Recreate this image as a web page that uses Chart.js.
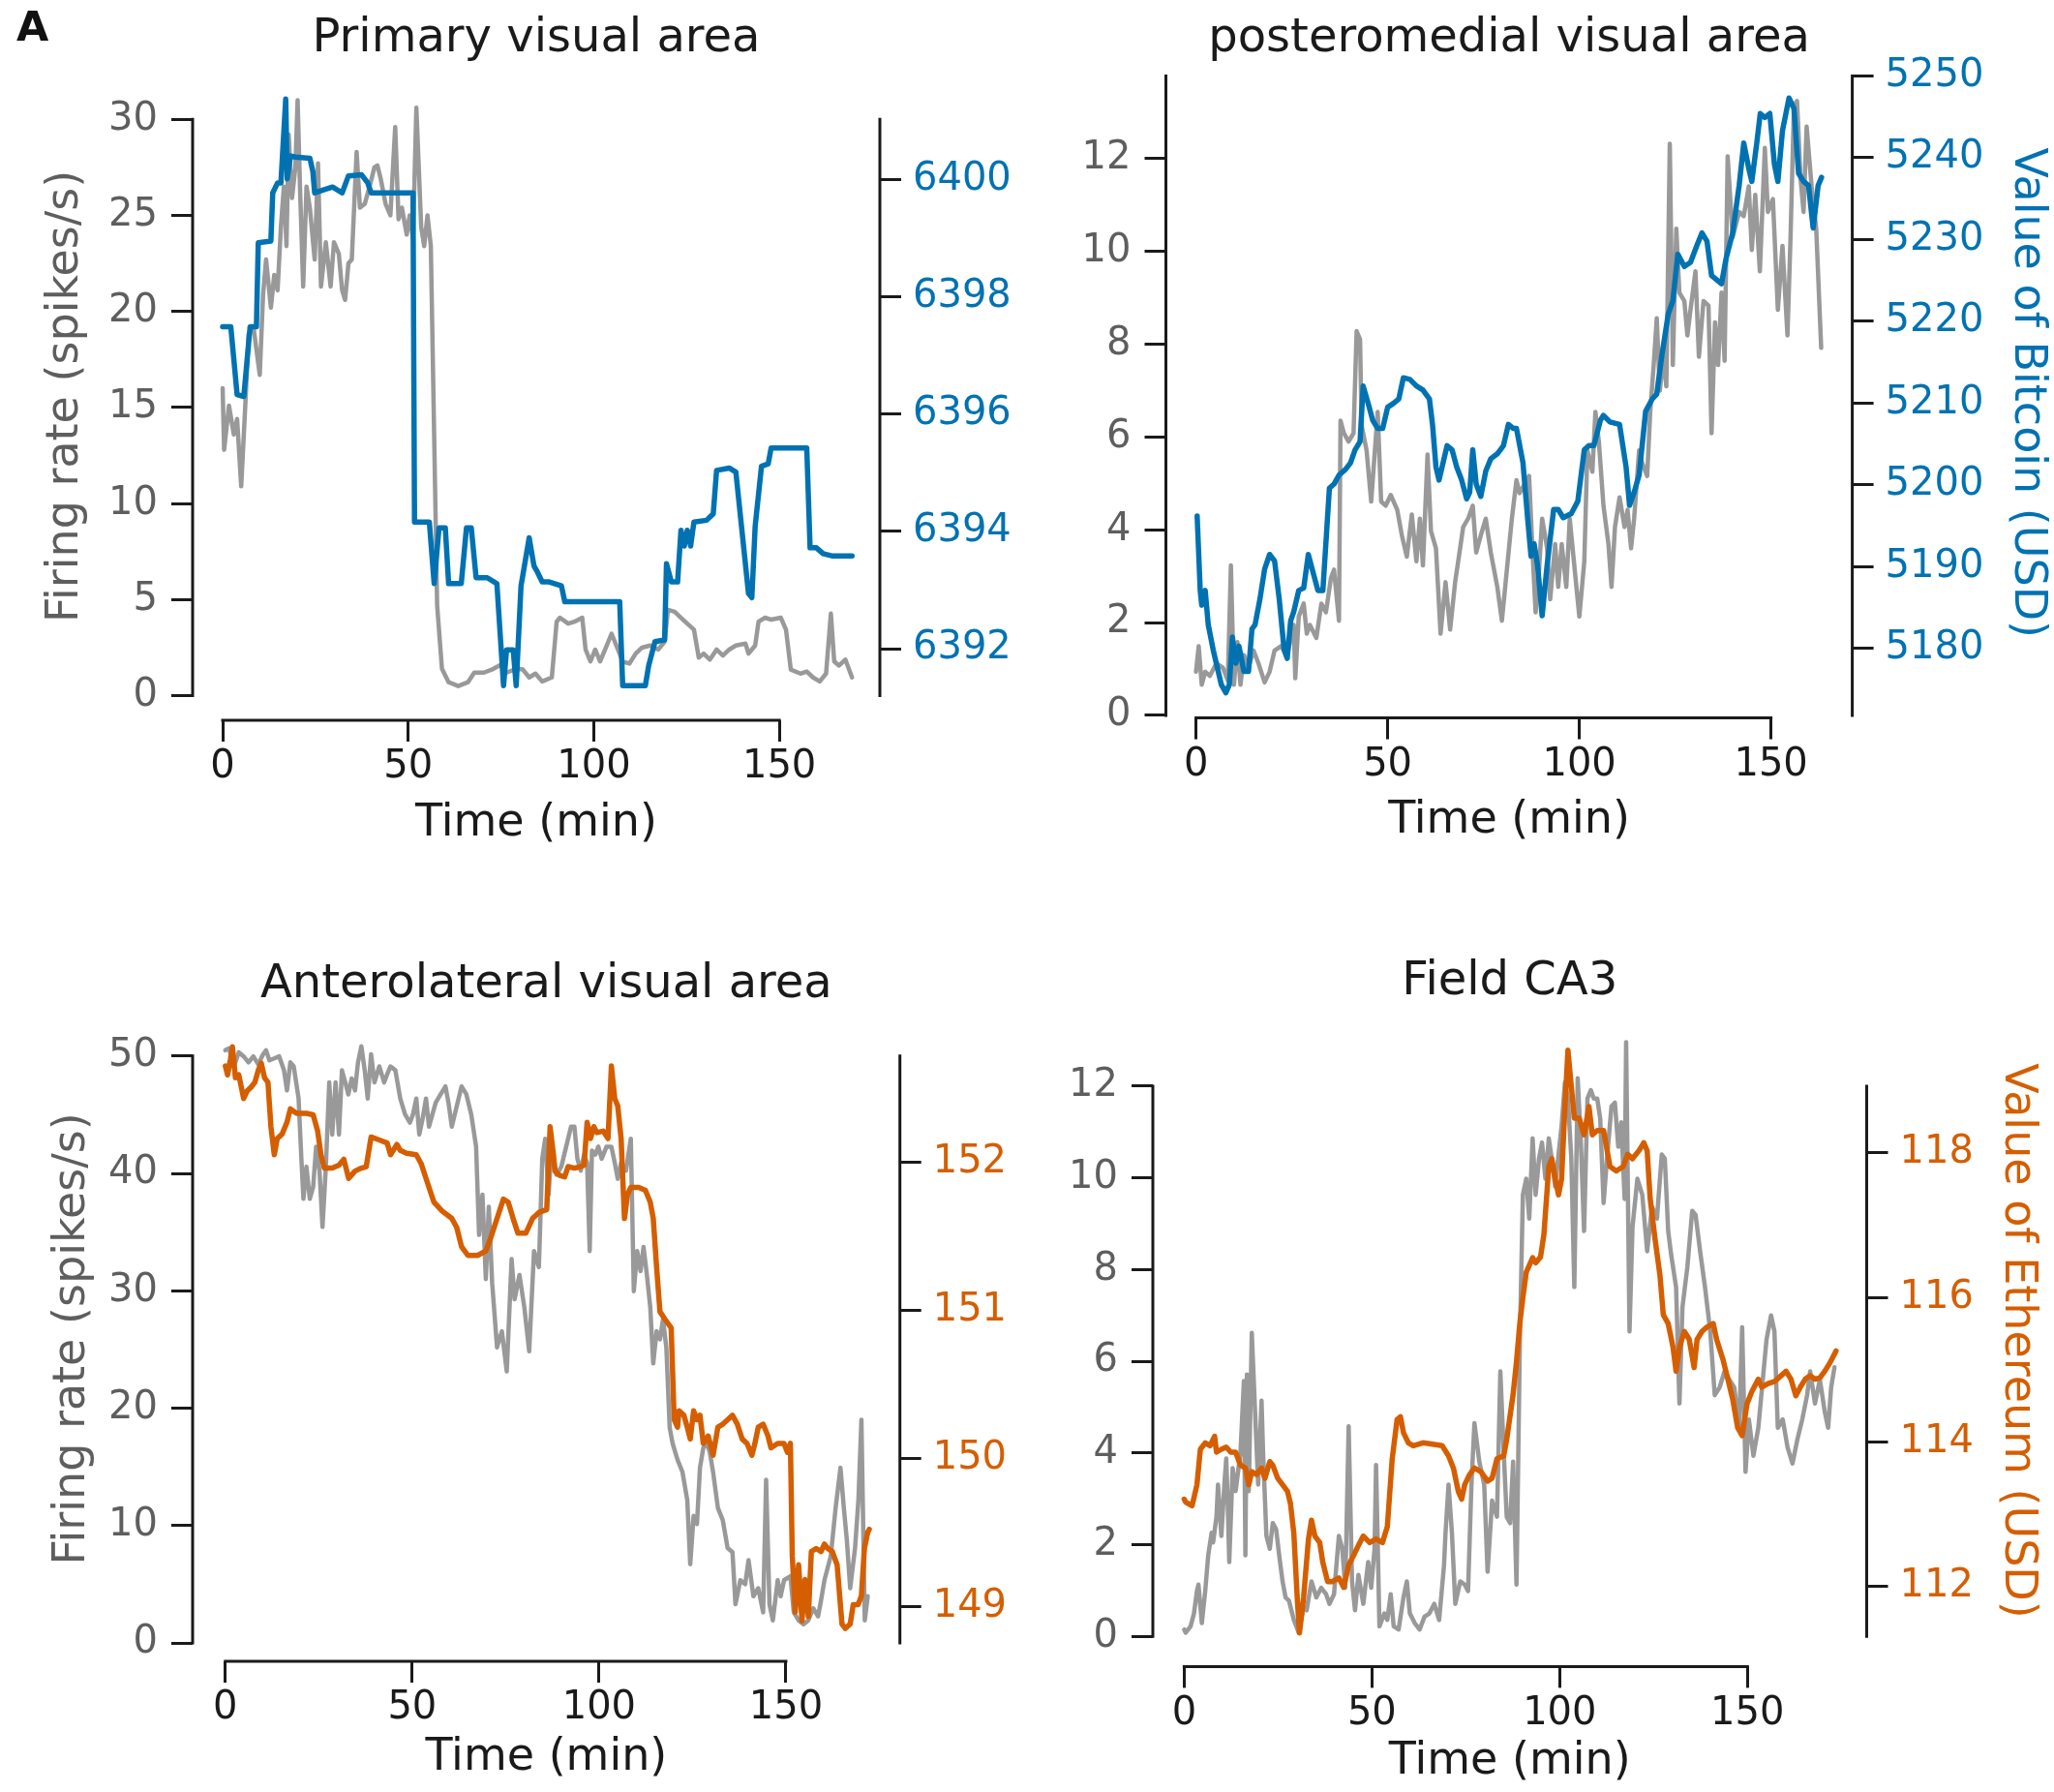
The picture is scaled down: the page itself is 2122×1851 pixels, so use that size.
<!DOCTYPE html>
<html lang="en">
<head>
<meta charset="utf-8">
<title>Firing rate vs. crypto value</title>
<script src="https://cdn.jsdelivr.net/npm/chart.js@4.4.1/dist/chart.umd.min.js"></script>
<style>
  html, body { margin: 0; padding: 0; background: #ffffff; }
  #figure { position: relative; width: 2122px; height: 1851px; overflow: hidden; background: #ffffff; }
  #figure canvas { position: absolute; }
  #panel-letter { position: absolute; z-index: 2; left: 17px; top: 6px; font: bold 43px/43px "DejaVu Sans", sans-serif; color: #111111; }
</style>
</head>
<body>
<div id="figure">
  <div id="panel-letter">A</div>
  <canvas id="primary-chart" width="1061" height="930" style="left:0px;top:0px"></canvas>
  <canvas id="postero-chart" width="1061" height="930" style="left:1061px;top:0px"></canvas>
  <canvas id="antero-chart" width="1061" height="921" style="left:0px;top:930px"></canvas>
  <canvas id="ca3-chart" width="1061" height="921" style="left:1061px;top:930px"></canvas>
</div>
<script>
// ---- values: [time (min), value] ----
const timeTicks = [0, 50, 100, 150];

const primaryRateTicks = [0, 5, 10, 15, 20, 25, 30];
const primaryBtcTicks = [6392, 6394, 6396, 6398, 6400];
const posteroRateTicks = [0, 2, 4, 6, 8, 10, 12];
const posteroBtcTicks = [5180, 5190, 5200, 5210, 5220, 5230, 5240, 5250];
const anteroRateTicks = [0, 10, 20, 30, 40, 50];
const anteroEthTicks = [149, 150, 151, 152];
const ca3RateTicks = [0, 2, 4, 6, 8, 10, 12];
const ca3EthTicks = [112, 114, 116, 118];

const primaryRate = [
  [0,16.0],[0.4,12.8],[1.7,15.1],[3.0,13.6],[3.9,14.4],[5.0,10.9],[6.1,15.1],[7.0,18.8],[8.3,19.2],[10.0,16.7],
  [10.9,20.9],[11.7,22.7],[13.0,20.2],[13.9,21.9],[14.8,21.1],[15.7,24.4],[16.5,26.5],[17.2,23.4],[17.8,29.2],[18.7,25.9],
  [19.6,27.5],[20.2,31.0],[20.9,26.1],[21.7,21.3],[22.6,26.5],[23.5,25.4],[24.8,22.7],[25.7,27.7],[26.5,21.3],[27.8,23.6],
  [29.1,21.3],[30.0,23.6],[31.3,23.0],[32.2,21.1],[33.0,20.6],[33.9,22.5],[34.8,22.7],[36.1,28.3],[37.0,25.4],[38.3,25.6],
  [39.6,26.5],[40.9,27.5],[41.7,27.6],[42.6,26.9],[43.9,25.6],[45.2,25.0],[46.5,29.6],[47.4,24.8],[48.3,25.4],[49.6,24.0],
  [50.4,25.0],[51.3,23.8],[52.2,30.6],[53.5,24.4],[54.3,23.4],[55.2,25.0],[56.1,23.4],[57.8,4.7],[59.1,1.4],[60.9,0.7],
  [63.5,0.5],[66.1,0.7],[67.8,1.2],[70.4,1.2],[73.0,1.4],[74.8,1.6],[76.5,1.2],[79.1,1.4],[80.9,1.36],[82.6,0.95],
  [84.3,1.15],[86.1,0.74],[88.7,0.95],[90.0,3.85],[90.9,4.06],[93.1,3.75],[94.8,3.85],[96.9,4.06],[97.8,2.4],[99.1,1.78],
  [100.4,2.4],[101.7,1.78],[103.5,2.61],[104.8,3.23],[106.1,2.61],[107.8,1.78],[109.6,1.67],[111.3,2.19],[113.0,2.5],[115.2,2.61],
  [117.4,2.4],[119.1,2.81],[120.0,4.47],[121.8,4.37],[123.5,4.06],[125.2,3.75],[127.0,3.44],[128.3,1.98],[129.6,2.19],[131.3,1.88],
  [133.1,2.4],[134.8,2.09],[136.5,2.4],[138.3,2.61],[140.9,2.71],[141.7,2.19],[143.5,2.61],[144.4,3.85],[146.1,4.06],[147.8,3.96],
  [150.4,4.06],[151.8,3.44],[153.1,1.36],[155.7,1.15],[157.4,1.26],[159.1,0.95],[160.9,0.74],[162.6,1.15],[163.9,4.27],[164.8,1.78],
  [166.1,1.57],[167.8,1.88],[169.6,0.95]
];
const primaryBtc = [
  [0,6397.49],[2.2,6397.49],[3.9,6396.33],[5.7,6396.3],[7.4,6397.49],[9.1,6397.49],[9.6,6398.92],[13.0,6398.95],[13.5,6399.77],[14.8,6399.94],
  [15.7,6399.94],[17.0,6401.37],[17.4,6400.01],[18.3,6400.4],[19.6,6400.38],[23.5,6400.36],[24.3,6400.14],[24.8,6399.77],[29.6,6399.87],[32.2,6399.77],
  [33.9,6400.06],[37.4,6400.08],[39.1,6399.94],[40.0,6399.77],[51.3,6399.77],[51.7,6394.16],[55.7,6394.16],[57.0,6393.11],[58.3,6394.06],[60.0,6394.06],
  [60.9,6393.11],[64.3,6393.11],[65.7,6394.06],[67.0,6394.06],[68.3,6393.21],[71.3,6393.21],[73.9,6393.11],[75.7,6391.37],[76.5,6391.98],[78.3,6391.98],
  [79.1,6391.37],[80.4,6393.07],[82.6,6393.89],[83.9,6393.41],[84.8,6393.31],[86.1,6393.14],[87.8,6393.14],[91.3,6393.07],[92.2,6392.8],[107.0,6392.8],
  [107.8,6391.37],[113.9,6391.37],[114.8,6391.71],[116.5,6392.12],[119.1,6392.15],[119.6,6393.45],[120.9,6393.14],[122.6,6393.14],[123.5,6394.02],[124.4,6393.75],
  [125.2,6394.02],[126.1,6393.75],[127.0,6394.16],[130.4,6394.19],[132.2,6394.3],[133.1,6395.04],[136.5,6395.08],[138.3,6395.01],[141.7,6392.94],[142.6,6392.87],
  [143.5,6394.09],[145.2,6395.11],[147.0,6395.15],[147.8,6395.42],[157.4,6395.42],[158.3,6393.72],[160.0,6393.72],[161.8,6393.62],[164.4,6393.58],[169.6,6393.58]
];

const posteroRate = [
  [0,0.94],[0.7,1.49],[1.5,0.66],[2.4,0.94],[3.6,0.85],[5.3,1.12],[7.0,1.03],[8.3,0.75],[9.1,3.23],[9.9,0.66],
  [10.8,1.58],[11.6,0.66],[12.5,1.3],[13.7,1.03],[15.0,1.4],[16.3,1.12],[17.9,0.71],[19.2,0.94],[20.5,1.4],[22.2,1.49],
  [23.8,1.3],[25.5,1.95],[25.9,0.8],[26.8,2.13],[28.1,2.41],[28.9,1.76],[29.7,1.95],[31.4,1.67],[32.7,2.41],[33.9,2.22],
  [35.2,2.96],[36.0,3.14],[37.3,2.04],[37.7,6.35],[38.6,6.08],[39.8,5.9],[41.1,6.08],[41.9,8.28],[42.8,8.1],[43.2,6.26],
  [44.5,5.71],[45.7,4.61],[47.4,6.54],[48.3,4.61],[49.5,4.52],[50.8,4.75],[52.5,4.43],[53.7,3.88],[55.0,3.42],[56.3,4.33],
  [57.5,3.32],[58.4,4.24],[59.2,3.23],[60.4,5.62],[61.3,3.97],[62.6,3.6],[63.8,1.76],[65.1,2.87],[66.3,1.85],[67.6,2.87],
  [68.9,3.6],[69.7,4.06],[71.0,4.24],[72.2,4.52],[73.1,3.51],[74.3,3.88],[75.6,4.24],[76.9,3.51],[78.6,2.77],[79.8,2.04],
  [81.1,3.14],[82.4,4.24],[83.6,5.07],[84.4,4.79],[85.7,4.98],[86.9,5.16],[87.8,3.51],[88.6,2.22],[89.5,3.14],[90.3,4.24],
  [91.6,3.6],[92.4,2.5],[93.7,3.69],[94.5,2.77],[95.4,3.69],[96.6,2.77],[97.5,4.24],[98.8,3.14],[100.0,2.13],[101.3,3.32],
  [102.1,5.71],[103.4,5.25],[104.2,6.54],[105.1,5.9],[106.3,4.52],[107.6,3.69],[108.4,2.77],[109.3,4.06],[110.5,4.7],[111.8,4.06],
  [112.6,4.43],[113.5,3.6],[114.3,4.24],[115.6,5.71],[116.4,5.44],[117.7,5.16],[118.5,6.54],[119.4,7.55],[120.2,8.56],[121.0,7.0],
  [121.9,7.73],[122.7,7.09],[123.6,12.32],[124.4,7.55],[125.3,10.49],[126.1,9.11],[127.4,8.93],[128.2,8.19],[129.0,8.74],[130.3,9.57],
  [131.2,7.73],[132.4,8.93],[133.7,8.83],[134.5,6.08],[135.4,8.47],[136.2,7.55],[137.1,9.11],[137.9,7.64],[138.7,12.05],[140.0,10.3],
  [141.7,10.85],[142.9,10.76],[144.2,11.4],[145.0,10.03],[145.9,11.22],[147.1,9.57],[148.4,12.23],[149.2,10.85],[150.5,11.13],[151.8,8.74],
  [153.0,10.12],[154.3,8.19],[155.1,10.3],[156.0,13.15],[156.8,13.24],[157.7,11.59],[158.5,10.85],[159.3,12.69],[160.6,11.4],[161.8,10.49],
  [163.1,7.92]
];
const posteroBtc = [
  [0.3,5196.2],[1.1,5187.1],[1.5,5185.3],[2.4,5187.1],[3.2,5182.9],[4.5,5179.8],[5.3,5178.2],[6.6,5175.6],[7.8,5174.6],[8.7,5175.6],
  [9.5,5181.4],[10.4,5178.2],[11.2,5180.3],[12.5,5177.2],[13.7,5177.2],[14.6,5182.4],[15.4,5182.9],[16.7,5186.1],[17.9,5189.7],[19.2,5191.5],
  [20.5,5190.7],[21.7,5186.1],[23.0,5179.8],[23.8,5178.8],[24.7,5183.4],[25.5,5184.5],[26.8,5187.1],[28.1,5187.4],[29.3,5191.5],[30.6,5189.2],
  [31.8,5187.1],[33.1,5187.1],[34.8,5199.6],[36.0,5200.1],[37.3,5201.2],[39.0,5201.9],[40.3,5202.7],[41.5,5204.3],[42.8,5205.3],[43.6,5212.1],
  [44.9,5210.0],[46.1,5207.9],[47.4,5206.9],[48.7,5206.9],[50.0,5209.5],[51.6,5210.0],[52.9,5210.5],[54.1,5213.1],[55.8,5212.9],[57.5,5212.1],
  [59.2,5211.6],[60.9,5210.5],[61.7,5207.4],[62.6,5202.2],[63.4,5200.6],[64.2,5202.2],[65.5,5204.8],[66.8,5204.3],[68.0,5202.2],[69.3,5200.6],
  [70.6,5198.3],[71.4,5199.1],[72.2,5204.3],[73.1,5200.1],[74.3,5198.6],[75.6,5201.7],[76.9,5203.2],[78.6,5203.8],[80.2,5204.8],[81.5,5207.4],
  [82.8,5206.9],[83.6,5206.9],[85.3,5202.7],[86.5,5196.0],[87.4,5191.3],[88.2,5192.8],[89.1,5190.2],[90.3,5184.0],[91.6,5190.2],[93.3,5197.0],
  [94.5,5197.0],[95.8,5196.0],[97.9,5196.5],[99.6,5198.0],[101.3,5204.3],[102.5,5204.8],[103.8,5204.8],[105.5,5207.9],[106.3,5208.5],[108.0,5207.7],
  [110.5,5207.4],[112.2,5202.2],[113.1,5197.5],[114.3,5199.1],[115.6,5201.2],[117.3,5209.0],[119.0,5210.5],[120.2,5211.1],[121.5,5215.7],[123.2,5220.9],
  [124.4,5222.5],[125.7,5228.2],[127.4,5226.7],[129.0,5227.2],[130.7,5229.3],[132.0,5230.8],[133.3,5229.8],[134.5,5225.6],[135.8,5225.1],[137.1,5224.6],
  [138.3,5227.7],[140.0,5230.8],[141.7,5236.6],[142.9,5241.8],[144.2,5238.7],[145.0,5237.1],[146.3,5241.8],[147.2,5245.4],[148.4,5244.9],[149.7,5245.4],
  [150.9,5239.2],[151.8,5237.1],[153.0,5243.3],[154.7,5247.3],[156.0,5246.0],[157.2,5238.1],[158.5,5237.1],[159.8,5236.6],[161.0,5231.4],[162.3,5236.6],
  [163.2,5237.6]
];

const anteroRate = [
  [0,50.49],[1.0,50.66],[2.3,49.12],[3.6,50.32],[4.9,49.97],[6.2,49.46],[7.5,49.97],[8.8,49.29],[10.1,50.15],[10.9,50.49],
  [11.8,49.63],[13.1,49.8],[14.4,49.97],[15.7,48.78],[16.5,47.07],[17.4,49.46],[18.3,49.12],[19.6,46.38],[20.4,40.91],[20.9,37.83],
  [21.7,40.57],[22.6,37.83],[23.5,38.86],[24.3,42.28],[25.2,40.23],[26.0,35.44],[26.9,40.57],[27.8,47.75],[28.6,43.31],[29.5,47.75],
  [30.4,43.31],[31.2,48.78],[32.1,47.75],[32.9,46.73],[33.8,48.09],[34.7,47.07],[35.5,49.46],[36.4,50.83],[37.3,48.78],[38.1,46.38],
  [39.0,50.15],[39.9,47.75],[41.2,49.12],[42.5,47.75],[43.3,48.44],[44.2,49.12],[45.5,48.78],[46.8,46.38],[48.1,45.02],[49.4,44.33],
  [50.2,45.02],[51.1,46.38],[51.9,43.31],[52.8,44.68],[53.7,46.38],[54.5,43.99],[55.4,45.02],[56.3,46.04],[57.6,46.73],[58.9,47.41],
  [59.7,46.04],[60.6,43.99],[61.9,45.7],[63.2,47.41],[64.5,46.73],[65.8,45.02],[67.1,42.28],[67.9,34.76],[68.8,38.18],[69.7,31.0],
  [70.5,37.15],[71.4,30.65],[72.7,25.18],[74.0,26.55],[75.3,23.13],[76.6,32.7],[77.4,29.28],[78.7,31.34],[80.0,28.6],[81.3,24.84],
  [82.6,33.39],[83.9,32.02],[84.8,41.25],[85.6,42.96],[86.5,38.18],[87.3,42.28],[88.6,39.89],[89.9,40.57],[91.2,42.28],[92.5,43.99],
  [93.4,43.99],[94.2,41.25],[95.1,40.23],[96.0,41.6],[96.8,40.91],[97.5,33.39],[98.1,41.94],[99.0,41.6],[99.8,42.28],[100.7,41.25],
  [102.0,42.28],[103.3,42.28],[104.2,40.91],[105.0,39.54],[105.9,40.91],[107.2,40.23],[108.5,42.96],[109.3,29.97],[110.2,33.39],[111.1,31.68],
  [111.9,33.73],[112.8,31.34],[113.7,28.6],[114.5,23.81],[115.4,26.55],[116.3,25.86],[117.1,27.57],[118.0,25.18],[118.9,18.34],[119.7,16.97],
  [121.0,15.6],[122.3,14.58],[123.6,12.18],[124.4,6.71],[125.3,10.82],[126.2,10.13],[127.0,14.92],[127.9,16.63],[128.8,16.97],[129.6,16.29],
  [130.5,14.58],[131.8,11.5],[133.1,10.47],[134.4,8.08],[135.7,7.74],[136.5,3.29],[137.8,5.34],[139.1,5.0],[140.0,7.05],[141.3,3.98],
  [142.6,4.66],[143.9,2.61],[144.7,13.89],[145.6,3.29],[146.5,1.92],[147.8,5.34],[148.6,3.98],[149.5,5.34],[151.2,5.69],[152.1,2.61],
  [153.4,1.92],[154.7,1.58],[156.0,1.92],[157.3,2.95],[158.6,2.27],[159.4,3.63],[160.3,5.34],[162.0,7.4],[163.3,11.5],[164.6,14.92],
  [165.5,11.5],[166.3,8.76],[167.2,4.66],[168.5,8.08],[169.4,12.18],[170.2,19.02],[171.1,1.92],[171.9,3.98]
];
const anteroEth = [
  [0,152.65],[0.6,152.59],[1.4,152.7],[1.9,152.78],[2.7,152.57],[3.6,152.59],[4.9,152.43],[5.8,152.48],[7.0,152.51],[7.9,152.54],
  [8.8,152.62],[9.6,152.67],[10.5,152.57],[11.4,152.54],[12.2,152.24],[13.1,152.05],[13.9,152.16],[15.2,152.19],[16.5,152.27],[17.4,152.36],
  [19.1,152.33],[21.7,152.33],[23.5,152.32],[24.7,152.21],[25.6,152.05],[26.5,151.96],[28.6,151.96],[30.4,151.98],[31.7,152.02],[33.0,151.89],
  [34.7,151.94],[36.4,151.96],[37.7,151.97],[39.0,152.17],[41.2,152.15],[43.3,152.13],[44.2,152.05],[45.9,152.12],[46.8,152.08],[48.5,152.06],
  [51.1,152.05],[52.4,151.99],[53.7,151.89],[55.8,151.73],[58.0,151.67],[60.6,151.62],[61.9,151.56],[63.2,151.43],[64.9,151.37],[67.5,151.37],
  [69.7,151.4],[70.9,151.48],[72.7,151.62],[74.4,151.75],[75.7,151.73],[77.0,151.62],[78.3,151.52],[80.4,151.52],[82.2,151.62],[83.9,151.66],
  [86.0,151.68],[86.9,152.24],[87.8,152.05],[88.2,151.94],[89.5,151.91],[90.8,151.9],[91.7,151.97],[93.4,151.96],[95.1,151.97],[96.0,151.98],
  [96.8,152.27],[97.7,152.16],[98.6,152.24],[99.4,152.2],[101.1,152.21],[102.4,152.16],[103.3,152.65],[104.2,152.43],[105.0,152.38],[105.9,152.16],
  [106.8,151.62],[107.6,151.78],[108.5,151.83],[110.6,151.83],[112.4,151.81],[113.7,151.73],[114.5,151.62],[115.4,151.29],[116.3,150.99],[117.6,150.94],
  [119.3,150.88],[120.1,150.26],[121.0,150.21],[121.4,150.32],[122.7,150.29],[123.6,150.21],[124.4,150.13],[125.3,150.32],[126.2,150.26],[127.0,150.29],
  [127.9,150.1],[129.2,150.15],[130.5,150.02],[131.8,150.21],[133.1,150.23],[134.4,150.26],[135.7,150.29],[137.0,150.23],[138.3,150.13],[139.6,150.1],
  [140.9,150.02],[141.7,150.1],[142.6,150.21],[143.9,150.23],[145.2,150.15],[146.0,150.07],[147.8,150.1],[149.5,150.1],[150.4,150.04],[151.2,150.1],
  [151.7,149.34],[152.5,148.96],[153.4,149.28],[154.3,148.9],[155.1,149.18],[156.0,148.93],[156.8,149.37],[158.1,149.39],[159.4,149.37],[160.3,149.42],
  [161.2,149.39],[162.4,149.37],[163.7,149.28],[165.0,148.88],[165.9,148.85],[167.2,148.88],[168.0,149.01],[169.3,149.01],[170.2,149.07],[171.0,149.39],
  [171.9,149.5],[172.3,149.52]
];

const ca3Rate = [
  [0,0.15],[0.4,0.08],[1.7,0.22],[2.6,0.5],[3.4,0.99],[3.8,1.13],[4.7,0.29],[5.6,0.99],[6.4,1.77],[7.3,2.26],
  [7.7,2.05],[8.6,2.61],[9.0,3.31],[9.9,2.19],[10.7,3.31],[11.2,3.88],[11.6,2.89],[12.0,1.62],[12.9,3.67],[13.7,3.17],
  [15.0,4.02],[15.9,5.57],[16.3,1.77],[16.7,5.71],[17.2,3.17],[18.0,6.62],[18.9,4.86],[19.7,3.31],[20.6,5.14],[21.0,4.02],
  [21.9,2.19],[22.8,1.91],[23.6,2.47],[24.5,2.33],[25.3,1.77],[26.2,1.2],[27.0,0.85],[27.9,0.78],[29.2,0.36],[30.5,0.08],
  [31.8,0.64],[32.6,0.57],[33.9,1.2],[35.2,0.85],[36.5,1.06],[37.8,0.92],[38.7,0.71],[39.9,0.92],[41.2,2.19],[42.1,1.91],
  [42.9,1.06],[43.8,4.58],[44.7,1.2],[45.5,0.57],[46.4,1.34],[47.7,0.71],[49.0,1.62],[49.8,1.06],[50.7,1.91],[51.1,3.74],
  [52.0,0.22],[53.3,0.5],[54.1,0.36],[55.0,0.92],[55.8,0.22],[57.1,0.15],[58.4,0.85],[59.3,1.2],[60.1,0.5],[61.4,0.29],
  [62.7,0.15],[64.0,0.43],[65.3,0.5],[66.6,0.71],[67.9,0.36],[69.2,1.55],[69.6,2.26],[70.4,3.31],[71.3,2.26],[72.2,0.71],
  [73.5,1.2],[74.7,1.13],[75.6,0.99],[76.5,3.31],[77.3,4.65],[78.6,3.81],[79.9,3.31],[80.8,1.41],[82.0,2.96],[83.3,2.61],
  [84.2,5.78],[85.1,4.02],[85.9,2.61],[86.8,2.47],[87.6,3.81],[88.5,1.13],[89.4,6.48],[90.2,9.63],[91.1,9.98],[91.9,9.11],
  [92.8,10.86],[93.6,9.63],[94.5,10.42],[95.3,10.77],[96.2,9.98],[97.1,10.86],[97.9,10.42],[98.8,9.81],[99.7,10.51],[100.5,11.12],
  [101.4,12.08],[102.2,11.73],[103.1,10.42],[103.9,7.62],[104.8,12.17],[105.6,10.86],[106.5,8.84],[107.4,11.73],[108.3,11.91],[109.1,11.73],
  [110.0,11.73],[110.8,11.29],[111.7,9.45],[112.6,10.42],[113.8,11.56],[114.7,11.64],[115.6,10.68],[116.4,11.21],[117.3,9.54],[117.7,12.96],
  [118.6,6.65],[119.4,8.93],[120.7,9.98],[122.0,9.63],[123.3,8.4],[124.6,9.37],[125.9,9.11],[127.2,10.51],[128.0,10.42],[128.9,8.84],
  [129.7,8.32],[131.0,7.62],[131.9,5.08],[132.7,7.18],[134.0,8.05],[135.3,9.28],[136.2,9.19],[137.4,8.4],[138.7,7.62],[140.1,6.65],
  [141.3,5.26],[142.6,5.43],[143.9,5.78],[145.2,5.6],[146.5,5.43],[147.8,4.55],[148.6,6.74],[149.5,3.59],[150.4,4.73],[151.6,3.94],
  [152.9,4.55],[154.2,5.69],[155.1,6.48],[156.3,7.0],[157.2,6.65],[158.1,4.55],[159.4,4.73],[160.7,4.12],[162.0,3.77],[163.3,4.29],
  [164.6,4.73],[165.9,5.26],[166.7,5.78],[168.0,5.08],[169.3,5.6],[170.6,4.9],[171.5,4.55],[172.3,5.43],[173.2,5.87]
];
const ca3Eth = [
  [0,113.21],[0.4,113.17],[2.1,113.12],[3.4,113.41],[4.3,113.9],[5.6,113.99],[6.9,113.95],[8.1,114.08],[8.6,113.86],[9.9,113.9],
  [11.2,113.93],[12.4,113.86],[13.7,113.86],[15.0,113.68],[16.3,113.64],[17.2,113.41],[18.0,113.59],[19.3,113.55],[20.6,113.64],[21.5,113.5],
  [22.8,113.73],[23.6,113.68],[24.9,113.5],[26.2,113.41],[27.5,113.32],[28.3,113.15],[29.2,112.74],[30.1,111.85],[30.7,111.36],[31.8,111.85],
  [33.1,112.66],[33.9,112.92],[34.8,112.7],[36.1,112.61],[36.9,112.34],[38.2,112.07],[39.5,112.07],[41.2,112.12],[42.5,111.99],[43.8,112.3],
  [45.1,112.43],[46.4,112.57],[47.7,112.7],[49.4,112.61],[51.1,112.66],[52.8,112.61],[54.1,112.83],[55.4,113.77],[56.7,114.31],[57.6,114.35],
  [58.4,114.13],[59.7,113.99],[61.0,113.95],[63.6,113.99],[66.2,113.97],[68.7,113.95],[70.4,113.81],[71.7,113.64],[73.0,113.32],[73.9,113.21],
  [74.7,113.41],[76.0,113.55],[77.3,113.64],[79.0,113.59],[80.8,113.46],[82.0,113.5],[83.3,113.77],[85.1,113.81],[85.9,114.04],[87.6,114.66],
  [88.5,115.11],[89.4,115.65],[90.2,116.0],[91.1,116.35],[92.8,116.55],[93.6,116.48],[94.9,116.56],[95.8,116.87],[97.1,117.81],[97.9,117.92],
  [98.8,117.64],[99.7,117.42],[100.5,117.64],[101.4,118.64],[102.2,119.42],[103.1,118.92],[103.9,118.48],[105.2,118.48],[106.5,118.25],[107.8,118.64],
  [108.7,118.25],[110.0,118.31],[111.7,118.31],[113.4,117.81],[115.1,117.75],[116.9,117.81],[118.1,117.98],[119.4,117.92],[121.1,118.03],[122.4,118.14],
  [123.3,118.03],[124.1,117.37],[125.4,116.81],[126.7,116.31],[127.6,115.76],[128.9,115.64],[130.2,115.31],[131.0,114.98],[131.9,115.31],[133.2,115.53],
  [134.5,115.42],[135.8,115.03],[136.6,115.42],[137.9,115.53],[139.2,115.59],[140.9,115.64],[141.8,115.42],[143.5,115.14],[144.8,114.87],[146.1,114.59],
  [147.4,114.2],[148.6,114.09],[149.9,114.53],[151.2,114.7],[152.9,114.87],[153.8,114.76],[155.5,114.81],[157.3,114.84],[159.0,114.92],[160.3,114.98],
  [161.6,114.87],[162.9,114.64],[164.1,114.76],[165.4,114.87],[166.7,114.92],[168.0,114.87],[169.3,114.89],[170.6,114.98],[171.9,115.09],[173.6,115.26]
];

// ---- styling ----
const FONT = '"DejaVu Sans", Verdana, sans-serif';
const INK = '#1a1a1a';
const RATE_INK = '#5e5e5e';
const GRAY_LINE = '#999999';
const BLUE = '#0072b2';
const ORANGE = '#d55e00';
const TICK_LEN = 22;
const TICK_SIZE = 40;
const LABEL_SIZE = 46;
const TITLE_SIZE = 48;

// box sizes in px and axis windows in data units, measured so the plot areas land where the figure has them
const PANELS = [
  {
    canvas: 'primary-chart', title: 'Primary visual area',
    rate: primaryRate, coin: primaryBtc, rateTicks: primaryRateTicks, coinTicks: primaryBtcTicks,
    color: BLUE, rateLabel: 'Firing rate (spikes/s)', coinLabel: '',
    wl: 199, wr: 152, hx: 186, titlePad: [11.8, 5.6], rateLabelPad: 40, coinLabelPad: 0, timeLabelPad: 51,
    xRange: [-8.09, 177.1], rateRange: [-1.28, 32.43], coinRange: [6390.78, 6401.82], spine: [0, 30]
  },
  {
    canvas: 'postero-chart', title: 'posteromedial visual area',
    rate: posteroRate, coin: posteroBtc, rateTicks: posteroRateTicks, coinTicks: posteroBtcTicks,
    color: BLUE, rateLabel: '', coinLabel: 'Value of Bitcoin (USD)',
    wl: 143.5, wr: 208.4, hx: 188.4, titlePad: [11.8, 0.6], rateLabelPad: 0, coinLabelPad: 0, timeLabelPad: 54,
    xRange: [-7.854, 171.21], rateRange: [-0.056, 13.957], coinRange: [5171.515, 5250.994], spine: [0, 13.78]
  },
  {
    canvas: 'antero-chart', title: 'Anterolateral visual area',
    rate: anteroRate, coin: anteroEth, rateTicks: anteroRateTicks, coinTicks: anteroEthTicks,
    color: ORANGE, rateLabel: 'Firing rate (spikes/s)', coinLabel: '',
    wl: 199, wr: 131.3, hx: 135, titlePad: [58.9, 3.5], rateLabelPad: 47, coinLabelPad: 0, timeLabelPad: 7,
    xRange: [-8.754, 180.5], rateRange: [-1.567, 53.365], coinRange: [148.628, 152.984], spine: [0, 50]
  },
  {
    canvas: 'ca3-chart', title: 'Field CA3',
    rate: ca3Rate, coin: ca3Eth, rateTicks: ca3RateTicks, coinTicks: ca3EthTicks,
    color: ORANGE, rateLabel: '', coinLabel: 'Value of Ethereum (USD)',
    wl: 130, wr: 193.5, hx: 129.6, titlePad: [56.2, 4.8], rateLabelPad: 0, coinLabelPad: 10, timeLabelPad: 3,
    xRange: [-8.353, 181.77], rateRange: [-0.657, 13.547], coinRange: [110.895, 119.905], spine: [0, 12]
  }
];

// detached spines: left/right limited to the rate tick span, bottom limited to 0..150
const spinePlugin = {
  id: 'spines',
  afterDraw(chart, args, opts) {
    const { ctx, chartArea, scales } = chart;
    const top = scales.y.getPixelForValue(opts.span[1]);
    const bottom = scales.y.getPixelForValue(opts.span[0]);
    const x0 = scales.x.getPixelForValue(timeTicks[0]);
    const x1 = scales.x.getPixelForValue(timeTicks[timeTicks.length - 1]);
    ctx.save();
    ctx.strokeStyle = INK;
    ctx.lineWidth = 3;
    ctx.lineCap = 'square';
    ctx.beginPath();
    ctx.moveTo(chartArea.left, top);
    ctx.lineTo(chartArea.left, bottom);
    ctx.moveTo(chartArea.right, top);
    ctx.lineTo(chartArea.right, bottom);
    ctx.moveTo(x0, chartArea.bottom);
    ctx.lineTo(x1, chartArea.bottom);
    ctx.stroke();
    ctx.restore();
  }
};

const toPoints = rows => rows.map(([t, v]) => ({ x: t, y: v }));
const tickFont = { family: FONT, size: TICK_SIZE, lineHeight: 1.2 };
const labelFont = { family: FONT, size: LABEL_SIZE, lineHeight: 1.2 };

function axisGrid() {
  return { drawOnChartArea: false, drawTicks: true, tickLength: TICK_LEN, tickWidth: 3, tickColor: INK };
}

function makePanel(p) {
  const canvas = document.getElementById(p.canvas);
  return new Chart(canvas, {
    type: 'line',
    data: {
      datasets: [
        {
          label: 'coin', data: toPoints(p.coin), yAxisID: 'y1', order: 0,
          borderColor: p.color, borderWidth: 5.5, pointRadius: 0, tension: 0,
          borderJoinStyle: 'round', borderCapStyle: 'round', fill: false
        },
        {
          label: 'rate', data: toPoints(p.rate), yAxisID: 'y', order: 1,
          borderColor: GRAY_LINE, borderWidth: 4.5, pointRadius: 0, tension: 0,
          borderJoinStyle: 'round', borderCapStyle: 'round', fill: false
        }
      ]
    },
    options: {
      responsive: false,
      animation: false,
      devicePixelRatio: 1,
      layout: { padding: 0, autoPadding: false },
      events: [],
      plugins: {
        legend: { display: false },
        tooltip: { enabled: false },
        title: {
          display: true, text: p.title, fullSize: false, color: INK,
          font: { family: FONT, size: TITLE_SIZE, weight: 'normal', lineHeight: 1.2 },
          padding: { top: p.titlePad[0], bottom: p.titlePad[1] }
        },
        spines: { span: p.spine }
      },
      scales: {
        x: {
          type: 'linear', position: 'bottom', min: p.xRange[0], max: p.xRange[1],
          afterBuildTicks: axis => { axis.ticks = timeTicks.map(v => ({ value: v })); },
          afterFit: axis => { axis.height = p.hx; },
          grid: axisGrid(), border: { display: false },
          ticks: { color: INK, font: tickFont, padding: 3, autoSkip: false, maxRotation: 0, callback: v => String(v) },
          title: { display: true, text: 'Time (min)', color: INK, font: labelFont, padding: { top: 0, bottom: p.timeLabelPad } }
        },
        y: {
          type: 'linear', position: 'left', min: p.rateRange[0], max: p.rateRange[1],
          afterBuildTicks: axis => { axis.ticks = p.rateTicks.map(v => ({ value: v })); },
          afterFit: axis => { axis.width = p.wl; },
          grid: axisGrid(), border: { display: false },
          ticks: { color: RATE_INK, font: tickFont, padding: 14, autoSkip: false, callback: v => String(v) },
          title: { display: !!p.rateLabel, text: p.rateLabel, color: RATE_INK, font: labelFont, padding: { top: p.rateLabelPad, bottom: 0 } }
        },
        y1: {
          type: 'linear', position: 'right', min: p.coinRange[0], max: p.coinRange[1],
          afterBuildTicks: axis => { axis.ticks = p.coinTicks.map(v => ({ value: v })); },
          afterFit: axis => { axis.width = p.wr; },
          grid: axisGrid(), border: { display: false },
          ticks: { color: p.color, font: tickFont, padding: 12, autoSkip: false, callback: v => String(v) },
          title: { display: !!p.coinLabel, text: p.coinLabel, color: p.color, font: labelFont, padding: { top: p.coinLabelPad, bottom: 0 } }
        }
      }
    },
    plugins: [spinePlugin]
  });
}

PANELS.forEach(makePanel);
</script>
</body>
</html>
